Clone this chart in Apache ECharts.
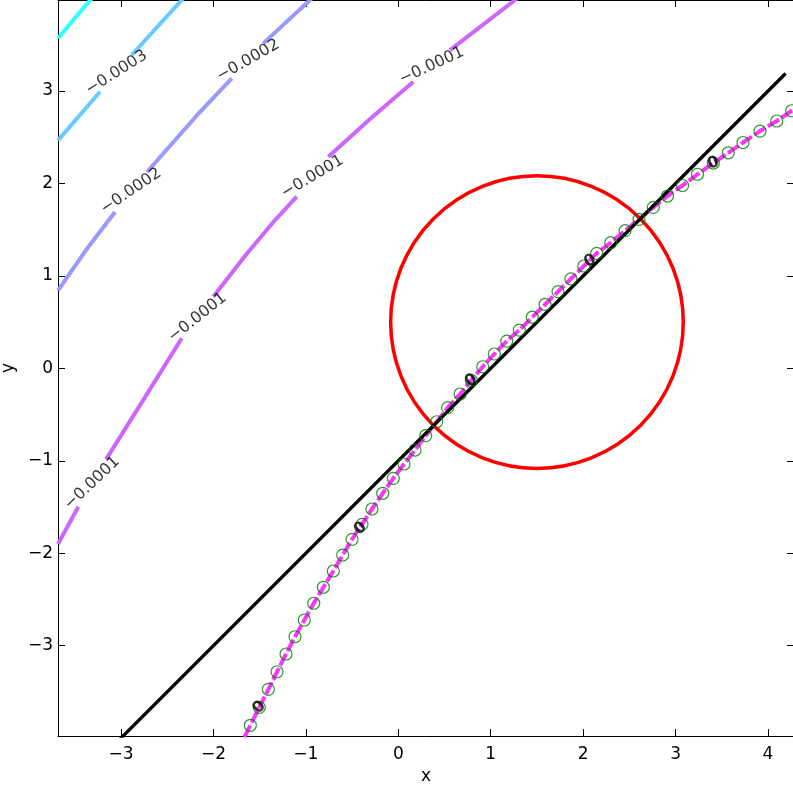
<!DOCTYPE html>
<html><head><meta charset="utf-8">
<script src="https://cdn.jsdelivr.net/npm/echarts@6/dist/echarts.min.js"></script>
<style>html,body{margin:0;padding:0;background:#fff}#c{width:793px;height:789px}</style>
</head><body><div id="c"></div>
<script>
// ---- axes ----
const xTicks = [-3, -2, -1, 0, 1, 2, 3, 4];
const yTicks = [-3, -2, -1, 0, 1, 2, 3];
const xRange = [-3.682, 4.281];
const yRange = [-3.978, 3.985];

// ---- contour levels (segments split where the inline labels sit) ----
const contourM4 = [
  [[-3.682, 3.568], [-3.509, 3.779], [-3.314, 4.006]]
];
const contourM3 = [
  [[-3.682, 2.466], [-3.227, 2.993]],
  [[-2.884, 3.390], [-2.343, 3.985], [-2.318, 4.017]]
];
const contourM2 = [
  [[-3.682, 0.843], [-3.379, 1.280], [-3.065, 1.691]],
  [[-2.719, 2.124], [-2.147, 2.773], [-1.802, 3.137]],
  [[-1.461, 3.516], [-0.955, 3.985], [-0.923, 4.017]]
];
const contourM1 = [
  [[-3.682, -1.900], [-3.462, -1.497]],
  [[-3.162, -0.985], [-2.752, -0.330], [-2.343, 0.325]],
  [[-2.002, 0.775], [-1.659, 1.215], [-1.334, 1.604], [-1.099, 1.857]],
  [[-0.757, 2.289], [-0.306, 2.697], [0.162, 3.101]],
  [[0.559, 3.443], [1.263, 3.985], [1.306, 4.017]]
];
// label positions [x, y, text]
const labelsM3 = [[-3.049, 3.200, '\u22120.0003']];
const labelsM2 = [[-2.892, 1.918, '\u22120.0002'], [-1.626, 3.330, '\u22120.0002']];
const labelsM1 = [[-3.312, -1.241, '\u22120.0001'], [-2.172, 0.550, '\u22120.0001'],
                  [-0.928, 2.073, '\u22120.0001'], [0.361, 3.273, '\u22120.0001']];

// ---- zero level curve (points marked with green circles) ----
const zeroPoints = [
  [-1.601, -3.862], [-1.504, -3.668], [-1.406, -3.473], [-1.312, -3.283], [-1.215, -3.091],
  [-1.118, -2.904], [-1.017, -2.723], [-0.915, -2.542], [-0.811, -2.369], [-0.703, -2.193],
  [-0.602, -2.020], [-0.501, -1.850], [-0.393, -1.688], [-0.285, -1.522], [-0.169, -1.352],
  [-0.054, -1.190], [0.062, -1.035], [0.181, -0.884], [0.296, -0.729], [0.415, -0.578],
  [0.534, -0.426], [0.668, -0.278], [0.790, -0.130], [0.913, 0.017], [1.039, 0.155],
  [1.173, 0.295], [1.309, 0.414], [1.449, 0.553], [1.588, 0.691], [1.728, 0.830],
  [1.867, 0.968], [2.007, 1.107], [2.146, 1.244], [2.298, 1.359], [2.453, 1.489],
  [2.604, 1.612], [2.759, 1.742], [2.912, 1.864], [3.075, 1.978], [3.237, 2.100],
  [3.408, 2.221], [3.570, 2.332], [3.729, 2.443], [3.913, 2.567], [4.094, 2.676],
  [4.256, 2.787]
];
const zeroStart = [-1.664, -3.989];
const zeroEnd = [4.419, 2.890];
const labelsZero = [[-1.504, -3.668, '0'], [-0.409, -1.733, '0'], [0.787, -0.132, '0'],
                    [2.074, 1.161, '0'], [3.408, 2.221, '0']];

// ---- straight line y = x - 1 (end points) ----
const blackLine = [[-3.8, -4.8], [4.19, 3.19]];
// ---- circle: centre x, centre y, radius ----
const circleData = [[1.5, 0.5, 1.583]];

// ---- styles ----
const FONT = 'DejaVu Sans';
const levelColors = ['#33ffff', '#66ccff', '#9999ff', '#cc66ff'];
const zeroColor = '#ff33ff';
const CW = 4;

function flat(segs) { return segs.reduce((a, s) => a.concat(s), []); }
function labelAngle(pts, lx, ly) {
  let best = 0, bd = Infinity;
  for (let i = 0; i < pts.length - 1; i++) {
    const mx = (pts[i][0] + pts[i + 1][0]) / 2, my = (pts[i][1] + pts[i + 1][1]) / 2;
    const d = (mx - lx) ** 2 + (my - ly) ** 2;
    if (d < bd) { bd = d; best = i; }
  }
  const a = pts[Math.max(0, best - 1)], b = pts[Math.min(pts.length - 1, best + 2)];
  const slope = (b[1] - a[1]) / (b[0] - a[0]);
  return Math.atan(0.56 * slope) * 180 / Math.PI;
}

const series = [];
const allLevels = [contourM4, contourM3, contourM2, contourM1];
allLevels.forEach((segs, li) => {
  segs.forEach(seg => {
    series.push({
      type: 'line', data: seg, showSymbol: false, symbol: 'none', clip: true, z: 2,
      lineStyle: { color: levelColors[li], width: CW, cap: 'butt' }, animation: false, silent: true
    });
  });
});
// zero contour
series.push({
  type: 'line', data: [zeroStart].concat(zeroPoints, [zeroEnd]), showSymbol: false, symbol: 'none',
  clip: true, z: 3, lineStyle: { color: zeroColor, width: CW, type: [13, 3] }, animation: false, silent: true
});
// red circle
series.push({
  type: 'custom', coordinateSystem: 'cartesian2d', data: circleData, z: 4, clip: true,
  encode: { x: 0, y: 1 }, animation: false, silent: true,
  renderItem: function (params, api) {
    const c = api.coord([api.value(0), api.value(1)]);
    const r = api.size([api.value(2), 0])[0];
    return { type: 'circle', shape: { cx: c[0], cy: c[1], r: r },
      style: { fill: 'none', stroke: '#ff0000', lineWidth: 3.5 } };
  }
});
// black line
series.push({
  type: 'line', data: blackLine, showSymbol: false, symbol: 'none', clip: true, z: 5,
  lineStyle: { color: '#000', width: 3.3 }, animation: false, silent: true
});
// green markers
series.push({
  type: 'scatter', data: zeroPoints, symbol: 'circle', symbolSize: 12, z: 6, clip: true,
  itemStyle: { color: 'rgba(0,0,0,0)', borderColor: '#007a00', borderWidth: 1.2 },
  animation: false, silent: true
});
// labels
function labelSeries(labels, pts, extra) {
  return {
    type: 'scatter', symbolSize: 0, z: 7, animation: false, silent: true,
    data: labels.map(l => ({
      value: [l[0], l[1]], name: l[2],
      label: { rotate: labelAngle(pts, l[0], l[1]) }
    })),
    label: Object.assign({ show: true, position: 'inside', formatter: p => p.name,
      fontFamily: FONT, fontSize: 16, color: '#000' }, extra || {})
  };
}
series.push(labelSeries(labelsM3, flat(contourM3)));
series.push(labelSeries(labelsM2, flat(contourM2)));
series.push(labelSeries(labelsM1, flat(contourM1)));
series.push(labelSeries(labelsZero, zeroPoints, { fontWeight: 'bold', fontSize: 16 }));

const fmt = v => (v < 0 ? '\u2212' : '') + Math.abs(v);
function axisCommon(ticks, show) {
  return {
    type: 'value', splitLine: { show: false }, splitNumber: 8,
    axisLine: { show: true, onZero: false, lineStyle: { color: '#000', width: 1 } },
    axisTick: { show: true, inside: true, length: 7, customValues: ticks, lineStyle: { color: '#000', width: 1 } },
    axisLabel: { show: show, customValues: ticks, formatter: fmt, fontFamily: FONT, fontSize: 17,
      color: '#000' }
  };
}
const nameStyle = { fontFamily: FONT, fontSize: 17, color: '#000' };
const xb = Object.assign(axisCommon(xTicks, true), { position: 'bottom', min: xRange[0], max: xRange[1],
  name: 'x', nameLocation: 'middle', nameGap: 30, nameTextStyle: nameStyle });
xb.axisLabel.margin = 10;
const xt = Object.assign(axisCommon(xTicks, false), { position: 'top', min: xRange[0], max: xRange[1] });
const yl = Object.assign(axisCommon(yTicks, true), { position: 'left', min: yRange[0], max: yRange[1],
  name: 'y', nameLocation: 'middle', nameGap: 26, nameRotate: 90, nameTextStyle: nameStyle });
yl.axisLabel.margin = 5;
const yr = Object.assign(axisCommon(yTicks, false), { position: 'right', min: yRange[0], max: yRange[1] });

const chart = echarts.init(document.getElementById('c'), null, { renderer: 'canvas' });
chart.setOption({
  backgroundColor: '#fff', animation: false,
  grid: { left: 58, top: 0, width: 736, height: 736, containLabel: false, outerBoundsMode: 'none' },
  xAxis: [xb, xt],
  yAxis: [yl, yr],
  series: series.map(s => Object.assign(s, { xAxisIndex: 0, yAxisIndex: 0 }))
});
</script></body></html>
